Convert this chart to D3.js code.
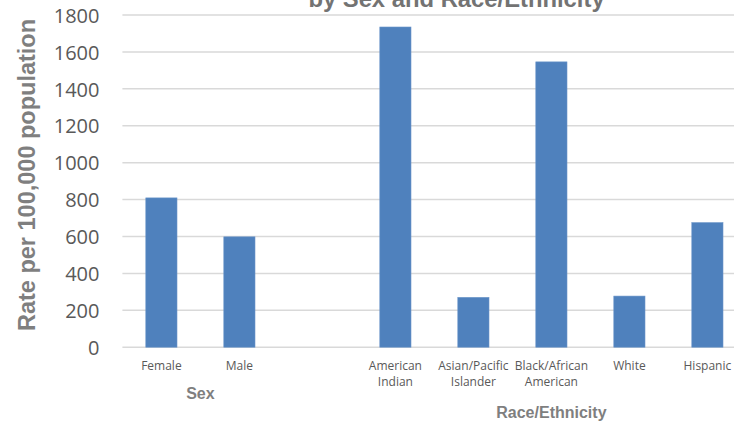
<!DOCTYPE html>
<html>
<head>
<meta charset="utf-8">
<script src="https://cdn.jsdelivr.net/npm/d3@7"></script>
<style>
  html, body { margin: 0; padding: 0; background: #fff; }
  svg { display: block; }
</style>
</head>
<body>
<svg id="chart" width="734" height="424"></svg>
<script>
// ---- data ----
const titleText = "by Sex and Race/Ethnicity";
const yAxisTitle = "Rate per 100,000 population";
const categories = ["Female", "Male", "", "American Indian", "Asian/Pacific Islander", "Black/African American", "White", "Hispanic"];
const values = [809, 598, null, 1735, 270, 1546, 277, 675];
const yTicks = [0, 200, 400, 600, 800, 1000, 1200, 1400, 1600, 1800];
const groupNames = ["Sex", "Race/Ethnicity"];
const groupStart = ["Female", "American Indian"];
const groupEnd = ["Male", "Hispanic"];

// ---- layout ----
const svg = d3.select("#chart");
const W = 734, H = 424;
const plotLeft = 122.4, plotRight = 746.4;
const plotTop = 15, plotBottom = 347.2;

const x = d3.scaleBand()
  .domain(categories.map((c, i) => i))
  .range([plotLeft, plotRight])
  .paddingInner(0.6)
  .paddingOuter(0.3);

const y = d3.scaleLinear().domain([0, 1800]).range([plotBottom, plotTop]);

// gridlines
svg.append("g").selectAll("line")
  .data(yTicks)
  .join("line")
  .attr("x1", plotLeft).attr("x2", plotRight)
  .attr("y1", d => y(d)).attr("y2", d => y(d))
  .attr("stroke", "#d9d9d9")
  .attr("stroke-width", 1.5);

// y axis labels
const yAxis = d3.axisLeft(y).tickValues(yTicks).tickSize(0).tickPadding(0).tickFormat(d3.format("d"));
const yg = svg.append("g").attr("transform", `translate(99.5,0)`).call(yAxis);
yg.select(".domain").remove();
yg.selectAll("text")
  .attr("font-family", "'Open Sans', sans-serif")
  .attr("font-size", 20)
  .attr("fill", "#595959")
  .attr("dy", "0.36em");

// bars
svg.append("g").selectAll("rect")
  .data(values.map((v, i) => ({ v, i })).filter(d => d.v != null))
  .join("rect")
  .attr("x", d => x(d.i))
  .attr("width", x.bandwidth())
  .attr("y", d => y(d.v))
  .attr("height", d => y(0) - y(d.v))
  .attr("fill", "#4f81bd")
  .attr("stroke", "#6b95c9")
  .attr("stroke-width", 0.6);

// category labels
const catG = svg.append("g")
  .attr("font-family", "'Open Sans', sans-serif")
  .attr("font-size", 12)
  .attr("fill", "#595959")
  .attr("text-anchor", "middle");
categories.forEach((c, i) => {
  if (!c) return;
  const sp = c.indexOf(" ");
  const lines = sp > 0 ? [c.slice(0, sp), c.slice(sp + 1)] : [c];
  const t = catG.append("text").attr("x", x(i) + x.bandwidth() / 2).attr("y", 369.5);
  lines.forEach((ln, k) => {
    t.append("tspan").attr("x", x(i) + x.bandwidth() / 2).attr("dy", k === 0 ? 0 : 16).text(ln);
  });
});

// group labels
const groupY = [399, 417.5];
groupNames.forEach((g, k) => {
  const a = categories.indexOf(groupStart[k]);
  const b = categories.indexOf(groupEnd[k]);
  const cx = (x(a) + x(b) + x.bandwidth()) / 2;
  svg.append("text")
    .attr("x", cx)
    .attr("y", groupY[k])
    .attr("text-anchor", "middle")
    .attr("font-family", "'Liberation Sans', Arial, sans-serif")
    .attr("font-weight", "bold")
    .attr("font-size", 16)
    .attr("fill", "#7f7f7f")
    .text(g);
});

// y axis title
svg.append("text")
  .attr("transform", `translate(35,175) rotate(-90)`)
  .attr("text-anchor", "middle")
  .attr("font-family", "'Liberation Sans', Arial, sans-serif")
  .attr("font-weight", "bold")
  .attr("font-size", 23.5)
  .attr("fill", "#7f7f7f")
  .text(yAxisTitle);

// title (second line visible)
svg.append("text")
  .attr("x", 456.5)
  .attr("y", 6.5)
  .attr("text-anchor", "middle")
  .attr("font-family", "'Liberation Sans', Arial, sans-serif")
  .attr("font-weight", "bold")
  .attr("font-size", 23.8)
  .attr("fill", "#737373")
  .text(titleText);
</script>
</body>
</html>
